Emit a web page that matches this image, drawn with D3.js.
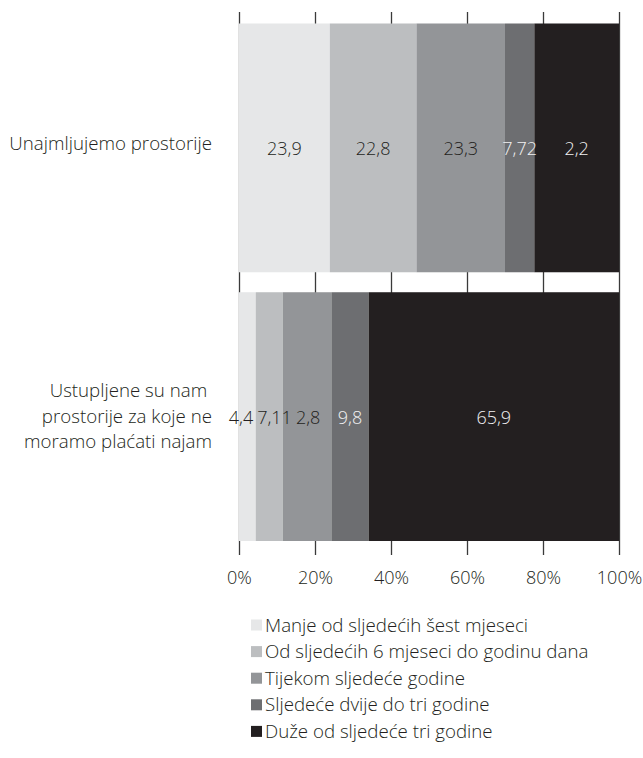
<!DOCTYPE html>
<html>
<head>
<meta charset="utf-8">
<script src="https://cdn.jsdelivr.net/npm/d3@7"></script>
<style>
  html, body { margin: 0; padding: 0; background: #ffffff; }
  svg { display: block; }
  text { font-family: "Open Sans", "Noto Sans", sans-serif; font-weight: 300; }
</style>
</head>
<body>
<svg id="chart" width="643" height="758"></svg>
<script>
// ---- data ----
const categories = ["Unajmljujemo prostorije", "Ustupljene su nam prostorije za koje ne moramo plaćati najam"];
const categoryLines = [
  ["Unajmljujemo prostorije"],
  ["Ustupljene su nam ", "prostorije za koje ne", "moramo plaćati najam"]
];
const seriesNames = [
  "Manje od sljedećih šest mjeseci",
  "Od sljedećih 6 mjeseci do godinu dana",
  "Tijekom sljedeće godine",
  "Sljedeće dvije do tri godine",
  "Duže od sljedeće tri godine"
];
// values per series, one per category (percent shares)
const manje = [23.9, 4.4];
const od6 = [22.8, 7.11];
const tijekom = [23.3, 12.8];
const dvijeTri = [7.72, 9.8];
const duze = [22.28, 65.9];
// labels printed on the segments, as shown in the original
const labelsRow1 = ["23,9", "22,8", "23,3", "7,72", "2,2"];
const labelsRow2 = ["4,4", "7,11", "2,8", "9,8", "65,9"];
const tickValues = [0, 20, 40, 60, 80, 100];
const tickLabels = ["0%", "20%", "40%", "60%", "80%", "100%"];
const colors = ["#e6e7e8", "#bcbec0", "#939598", "#6d6e71", "#231f20"];
const labelColors = ["#231f20", "#231f20", "#231f20", "#f1f1f2", "#f1f1f2"];

// ---- build ----
const series = [manje, od6, tijekom, dvijeTri, duze];
const rowLabels = [labelsRow1, labelsRow2];
const table = categories.map((c, i) => {
  const row = { cat: c };
  const total = d3.sum(series, s => s[i]);
  seriesNames.forEach((n, k) => row[n] = series[k][i] / total * 100);
  return row;
});
const stacked = d3.stack().keys(seriesNames)(table);

const textSize = "18.7px";
const numSize = "18px";

const svg = d3.select("#chart");
const x = d3.scaleLinear().domain([0, 100]).range([239, 619]);
const y = d3.scaleBand().domain(categories).range([13.5, 551])
  .paddingInner(0.0743).paddingOuter(0.0372);

// gridlines / ticks (behind bars)
const axisG = svg.append("g").attr("transform", "translate(0,555)")
  .call(d3.axisBottom(x).tickValues(tickValues).tickSize(543)
    .tickFormat((d, i) => tickLabels[i]));
axisG.select(".domain").remove();
axisG.selectAll(".tick line")
  .attr("y2", -543).attr("y1", 0)
  .attr("stroke", "#3a3a3a").attr("stroke-width", 1.3);
axisG.selectAll(".tick text")
  .attr("y", 29).attr("dy", 0)
  .attr("fill", "#231f20")
  .style("font-size", numSize)
  .style("font-family", '"Open Sans", sans-serif')
  .style("font-weight", 300);

// bars
const layers = svg.append("g").selectAll("g").data(stacked).join("g")
  .attr("fill", (d, i) => colors[i]);
layers.selectAll("rect").data(d => d).join("rect")
  .attr("x", d => x(d[0]))
  .attr("width", d => x(d[1]) - x(d[0]))
  .attr("y", d => y(d.data.cat))
  .attr("height", y.bandwidth());

// segment labels, centred, then pushed apart where neighbours collide
const labelG = svg.append("g");
categories.forEach((c, i) => {
  const nodes = stacked.map((layer, k) => {
    const d = layer[i];
    const t = labelG.append("text")
      .attr("text-anchor", "middle")
      .attr("y", y(c) + y.bandwidth() / 2 + 7)
      .attr("fill", labelColors[k])
      .style("font-size", numSize)
      .text(rowLabels[i][k]);
    return { t, cx: (x(d[0]) + x(d[1])) / 2, w: t.node().getComputedTextLength() };
  });
  const gap = 4;
  for (let it = 0; it < 20; it++) {
    for (let k = 0; k < nodes.length - 1; k++) {
      const a = nodes[k], b = nodes[k + 1];
      const ov = (a.cx + a.w / 2 + gap) - (b.cx - b.w / 2);
      if (ov > 0) { a.cx -= ov / 2; b.cx += ov / 2; }
    }
  }
  nodes.forEach(n => n.t.attr("x", n.cx));
});

// category labels
categories.forEach((c, i) => {
  const lines = categoryLines[i];
  const cy = y(c) + y.bandwidth() / 2;
  const lh = 25.5;
  const first = cy + 7 - (lines.length - 1) / 2 * lh + (lines.length > 1 ? -1 : -5);
  const t = svg.append("text")
    .attr("text-anchor", "end")
    .attr("fill", "#231f20")
    .style("font-size", textSize)
    .style("white-space", "pre");
  lines.forEach((ln, j) => {
    t.append("tspan").attr("x", 212).attr("y", first + j * lh).text(ln);
  });
});

// legend
const legend = svg.append("g");
seriesNames.forEach((n, i) => {
  const cy = 625 + i * 26.6;
  legend.append("rect")
    .attr("x", 251).attr("y", cy - 5.5).attr("width", 11).attr("height", 11)
    .attr("fill", colors[i]);
  legend.append("text")
    .attr("x", 265).attr("y", cy + 6.5)
    .attr("fill", "#231f20")
    .style("font-size", textSize)
    .text(n);
});
</script>
</body>
</html>
